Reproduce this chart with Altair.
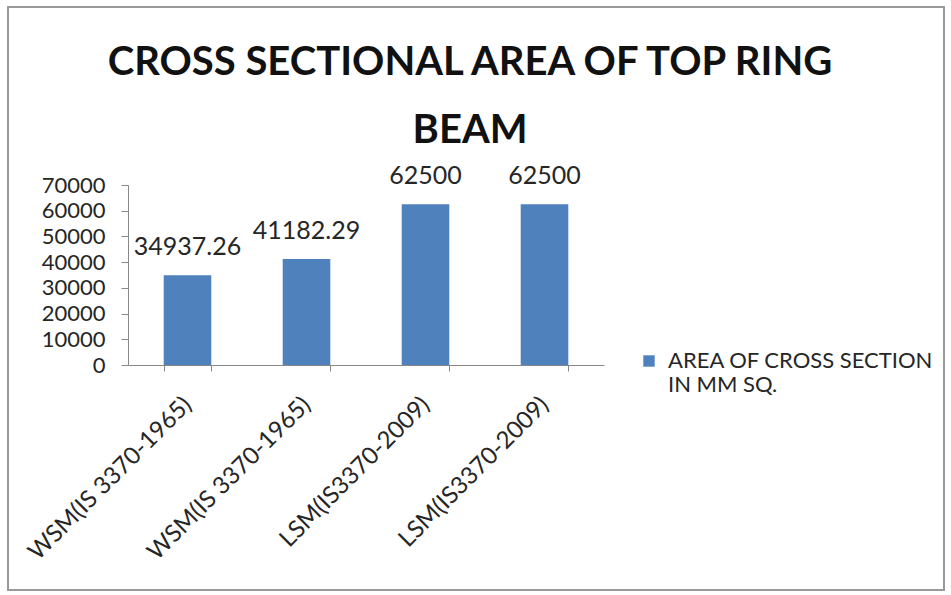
import json
import altair as alt
import pandas as pd

categories = ["WSM(IS 3370-1965)", "WSM(IS 3370-1965)", "LSM(IS3370-2009)", "LSM(IS3370-2009)"]
values = [34937.26, 41182.29, 62500, 62500]
value_labels = ["34937.26", "41182.29", "62500", "62500"]
series_name = "AREA OF CROSS SECTION IN MM SQ."
legend_lines = ["AREA OF CROSS SECTION", "IN MM SQ."]
title_lines = ["CROSS SECTIONAL AREA OF TOP RING", "BEAM"]
y_ticks = [0, 10000, 20000, 30000, 40000, 50000, 60000, 70000]

df = pd.DataFrame({
    "idx": list(range(len(categories))),
    "value": values,
    "vlabel": value_labels,
    "series": [series_name] * len(categories),
})

FONT = "Lato"
TXT = "#262626"
label_expr = json.dumps(categories) + "[datum.value]"

x_enc = alt.X("idx:O", title=None,
              scale=alt.Scale(paddingInner=0.6, paddingOuter=0.3),
              axis=alt.Axis(labelExpr=label_expr, labelAngle=-45, labelAlign="right",
                            labelBaseline="middle", labelPadding=30, labelFontSize=24,
                            labelFont=FONT, labelColor=TXT, tickBand="extent",
                            tickSize=6, domainColor="#888", tickColor="#888",
                            labelOverlap=False, labelLimit=400))
y_enc = alt.Y("value:Q", title=None,
              scale=alt.Scale(domain=[0, 70000]),
              axis=alt.Axis(values=y_ticks, grid=False, labelFontSize=22, labelFont=FONT,
                            labelColor=TXT, tickSize=7, domainColor="#888",
                            tickColor="#888", labelPadding=16, format="d",
                            labelOverlap=False))

bars = alt.Chart(df).mark_bar(color="#4F81BD").encode(
    x=x_enc,
    y=y_enc,
    color=alt.Color("series:N",
                    scale=alt.Scale(range=["#4F81BD"]),
                    legend=alt.Legend(title=None, orient="none", legendX=510, legendY=165,
                                      symbolType="square", symbolSize=130,
                                      labelFontSize=22, labelFont=FONT, labelColor=TXT,
                                      labelLimit=400, labelOffset=8,
                                      labelExpr=json.dumps(legend_lines))),
)

texts = alt.Chart(df).mark_text(baseline="alphabetic", dy=-20, fontSize=25, font=FONT,
                                color=TXT).encode(
    x=x_enc,
    y=y_enc,
    text="vlabel:N",
)

frame = alt.Chart(df).mark_rect(fill=None, stroke="#999", strokeWidth=1.5).encode(
    x=alt.value(-120), x2=alt.value(816), y=alt.value(-178), y2=alt.value(405),
)

title_df = pd.DataFrame({"t": title_lines, "row": list(range(len(title_lines)))})
title1 = alt.Chart(title_df).transform_filter("datum.row == 0").mark_text(
    fontSize=40, font=FONT, fontWeight="bold", color="#111", baseline="alphabetic",
    align="center").encode(x=alt.value(342), y=alt.value(-110), text="t:N")
title2 = alt.Chart(title_df).transform_filter("datum.row == 1").mark_text(
    fontSize=40, font=FONT, fontWeight="bold", color="#111", baseline="alphabetic",
    align="center").encode(x=alt.value(342), y=alt.value(-42), text="t:N")

chart = alt.layer(frame, bars, texts, title1, title2).properties(
    width=476, height=180,
    padding={"left": 128, "top": 185, "right": 347, "bottom": 230},
    autosize=alt.AutoSizeParams(type="none"),
    background="white",
).configure_view(strokeWidth=0)

chart.save("out.html", embed_options={"renderer": "svg", "actions": False})
